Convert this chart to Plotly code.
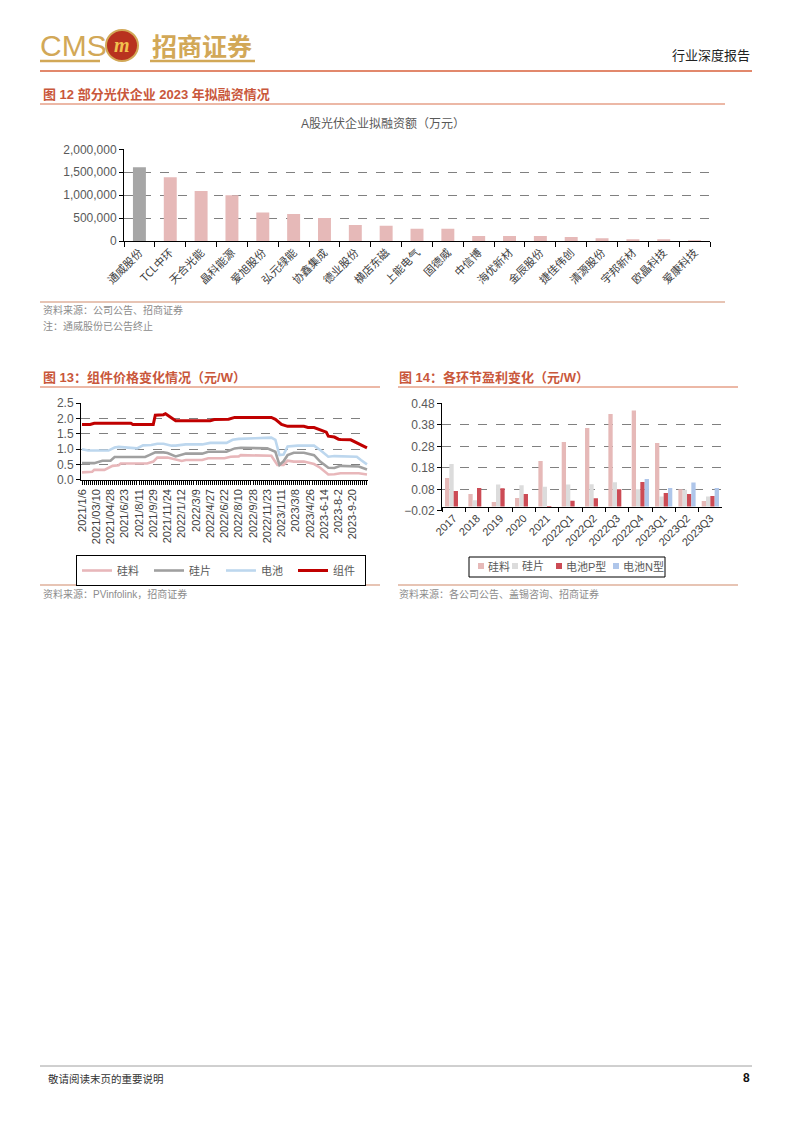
import plotly.graph_objects as go

W, H = 794, 1123
OFF = 8  # page body margin of the html page
def px(x):
    return (x - OFF) / W
def py(y):
    return 1 - (y - OFF) / H

CJK = "Noto Sans CJK SC"
MIX = "Liberation Sans, Noto Sans CJK SC"
ORANGE = "#C9573B"
GOLD = "#D2A857"

# ---------------- Figure 12 data ----------------
companies = ["通威股份", "TCL中环", "天合光能", "晶科能源", "爱旭股份", "弘元绿能", "协鑫集成",
             "德业股份", "横店东磁", "上能电气", "固德威", "中信博", "海优新材", "金辰股份",
             "捷佳伟创", "清源股份", "宇邦新材", "欧晶科技", "爱康科技"]
financing = [1610000, 1390000, 1090000, 1000000, 620000, 590000, 500000, 350000, 330000,
             265000, 265000, 110000, 110000, 110000, 85000, 60000, 40000, 38000, 15000]
fin_ticks = [0, 500000, 1000000, 1500000, 2000000]

# ---------------- Figure 13 data (weekly observation index, price 元/W) ----------------
date_labels = ["2021/1/6", "2021/03/10", "2021/04/28", "2021/6/23", "2021/8/11", "2021/9/29",
               "2021/11/24", "2022/1/12", "2022/3/9", "2022/4/27", "2022/6/22", "2022/8/10",
               "2022/9/28", "2022/11/23", "2023/1/11", "2023/3/8", "2023/4/26", "2023-6-14",
               "2023-8-2", "2023-9-20"]
label_idx = [0, 7, 14, 21, 28, 35, 42, 49, 56, 63, 70, 77, 84, 91, 98, 105, 112, 119, 126, 133]

poly_idx = [0, 5, 6, 11, 15, 18, 19, 32, 35, 37, 42, 46, 49, 51, 59, 62, 70, 73, 77, 78, 91, 93,
            96, 99, 101, 104, 109, 114, 117, 121, 124, 127, 136, 140]
poly_val = [0.24, 0.26, 0.32, 0.32, 0.45, 0.47, 0.53, 0.53, 0.59, 0.72, 0.72, 0.66, 0.61, 0.64,
            0.64, 0.70, 0.70, 0.75, 0.76, 0.80, 0.80, 0.78, 0.48, 0.48, 0.62, 0.59, 0.59, 0.51,
            0.39, 0.17, 0.18, 0.21, 0.21, 0.17]

wafer_idx = [0, 6, 10, 14, 16, 31, 33, 36, 40, 42, 46, 49, 51, 59, 62, 71, 75, 78, 88, 91, 95,
             97, 99, 101, 104, 109, 114, 117, 121, 124, 127, 132, 136, 140]
wafer_val = [0.54, 0.54, 0.62, 0.62, 0.74, 0.74, 0.80, 0.89, 0.89, 0.87, 0.76, 0.80, 0.85, 0.85,
             0.91, 0.91, 1.02, 1.04, 1.04, 1.02, 0.91, 0.48, 0.60, 0.80, 0.88, 0.88, 0.80, 0.59,
             0.39, 0.38, 0.45, 0.45, 0.43, 0.33]

cell_idx = [0, 3, 13, 16, 18, 24, 27, 30, 34, 37, 40, 44, 46, 51, 59, 63, 71, 74, 77, 85, 89, 93,
            95, 97, 99, 101, 106, 114, 117, 121, 124, 133, 135, 137, 140]
cell_val = [0.99, 0.95, 0.95, 1.05, 1.07, 1.05, 1.02, 1.12, 1.13, 1.17, 1.17, 1.11, 1.11, 1.15,
            1.15, 1.20, 1.20, 1.30, 1.33, 1.35, 1.35, 1.37, 1.30, 0.80, 0.82, 1.08, 1.11, 1.11,
            0.97, 0.75, 0.77, 0.77, 0.75, 0.64, 0.50]

module_idx = [0, 4, 6, 24, 25, 35, 36, 40, 41, 43, 46, 63, 65, 72, 75, 93, 95, 98, 101, 109, 111,
              114, 117, 120, 121, 124, 126, 127, 132, 134, 140]
module_val = [1.80, 1.80, 1.84, 1.84, 1.80, 1.80, 2.10, 2.12, 2.15, 2.05, 1.92, 1.92, 1.96, 1.97,
              2.03, 2.03, 1.97, 1.80, 1.74, 1.74, 1.70, 1.70, 1.63, 1.55, 1.42, 1.39, 1.32, 1.31,
              1.30, 1.24, 1.04]

# ---------------- Figure 14 data (元/W) ----------------
periods = ["2017", "2018", "2019", "2020", "2021", "2022Q1", "2022Q2", "2022Q3", "2022Q4",
           "2023Q1", "2023Q2", "2023Q3"]
profit_poly = [0.133, 0.058, 0.021, 0.040, 0.212, 0.300, 0.365, 0.430, 0.446, 0.295, 0.080, 0.026]
profit_wafer = [0.198, 0.029, 0.102, 0.099, 0.092, 0.102, 0.103, 0.113, 0.080, 0.047, 0.078, 0.046]
profit_cell_p = [0.072, 0.086, 0.085, 0.058, -0.003, 0.027, 0.038, 0.080, 0.114, 0.063, 0.058, 0.049]
profit_cell_n = [None, None, None, None, None, None, None, None, 0.128, 0.086, 0.112, 0.086]
profit_ticks = [-0.02, 0.08, 0.18, 0.28, 0.38, 0.48]

fig = go.Figure()

# Figure 12 bars
fig.add_trace(go.Bar(
    x=companies, y=financing, xaxis="x", yaxis="y", width=0.42,
    marker=dict(color=["#A6A6A6"] + ["#E6B9B8"] * (len(companies) - 1), line=dict(width=0)),
    showlegend=False, hoverinfo="x+y"))

# Figure 13 lines
for name, xs, ys, col, w in [("硅料", poly_idx, poly_val, "#E8B7BA", 2.6),
                             ("硅片", wafer_idx, wafer_val, "#A0A0A0", 2.6),
                             ("电池", cell_idx, cell_val, "#BDD7EE", 2.6),
                             ("组件", module_idx, module_val, "#C00000", 3.0)]:
    fig.add_trace(go.Scatter(x=xs, y=ys, mode="lines", name=name, xaxis="x2", yaxis="y2",
                             line=dict(color=col, width=w), legend="legend"))

# Figure 14 bars
bar14 = [("硅料", profit_poly, "#E6B9B8"),
         ("硅片", profit_wafer, "#DCDCDC"),
         ("电池P型", profit_cell_p, "#CC4B55"),
         ("电池N型", profit_cell_n, "#AFC6EA")]
for name, ys, col in bar14:
    fig.add_trace(go.Bar(x=periods, y=ys, name=name, xaxis="x3", yaxis="y3",
                         marker=dict(color=col, line=dict(width=0)), showlegend=False))

axis_font = dict(family="Liberation Sans", size=12, color="#595959")
grid = dict(showgrid=True, gridcolor="#808080", gridwidth=1, griddash="dash")

fig.update_layout(
    width=W, height=H, margin=dict(l=0, r=0, t=0, b=0, autoexpand=False),
    paper_bgcolor="white", plot_bgcolor="white",
    barmode="group", bargap=0.26, bargroupgap=0,
    showlegend=True,
    xaxis=dict(domain=[px(124), px(710)], anchor="y", type="category", automargin=False,
               showline=True, linecolor="black", linewidth=1,
               ticks="outside", tickson="boundaries", ticklen=5, tickcolor="black",
               tickangle=-45, tickfont=dict(family=CJK, size=11, color="#404040"),
               showgrid=False, zeroline=False),
    yaxis=dict(domain=[py(241), py(149.3)], anchor="x", range=[0, 2000000], automargin=False,
               tickvals=fin_ticks, tickformat=",", tickfont=axis_font,
               showline=True, linecolor="black", linewidth=1,
               ticks="outside", ticklen=4, tickcolor="black", zeroline=False, **grid),
    xaxis2=dict(domain=[px(81), px(368)], anchor="y2", range=[-0.5, 140.5], automargin=False,
                tickmode="array", tickvals=label_idx, ticktext=date_labels,
                tickangle=-90, tickfont=dict(family="Liberation Sans", size=11, color="#404040"),
                showline=True, linecolor="black", linewidth=1,
                ticks="outside", ticklen=4, tickcolor="black",
                minor=dict(tickmode="linear", tick0=0, dtick=1, ticks="outside", ticklen=4,
                           tickcolor="black", showgrid=False),
                showgrid=False, zeroline=False),
    yaxis2=dict(domain=[py(479.7), py(403)], anchor="x2", range=[0, 2.5], dtick=0.5,
                automargin=False, tickformat=".1f", tickfont=axis_font,
                showline=True, linecolor="black", linewidth=1,
                ticks="outside", ticklen=4, tickcolor="black", zeroline=False, **grid),
    xaxis3=dict(domain=[px(442), px(722)], anchor="free", position=py(506.5), type="category",
                automargin=False,
                showline=True, linecolor="black", linewidth=1,
                ticks="outside", tickson="boundaries", ticklen=4, tickcolor="black",
                tickangle=-45, tickfont=dict(family="Liberation Sans", size=11, color="#404040"),
                showgrid=False, zeroline=False),
    yaxis3=dict(domain=[py(510.8), py(403.3)], anchor="x3", range=[-0.02, 0.48],
                automargin=False, tickvals=profit_ticks, tickformat=".2f", tickfont=axis_font,
                showline=True, linecolor="black", linewidth=1,
                ticks="outside", ticklen=4, tickcolor="black", zeroline=False, **grid),
    legend=dict(x=px(221), xanchor="center", y=py(555), yanchor="top", orientation="h",
                bordercolor="black", borderwidth=1, bgcolor="white",
                font=dict(family=CJK, size=11, color="#595959"),
                itemwidth=30, entrywidth=27, tracegroupgap=0),
)

shapes = []
def hline(x0, x1, y, color, width=1):
    shapes.append(dict(type="line", xref="paper", yref="paper", x0=px(x0), x1=px(x1),
                       y0=py(y), y1=py(y), line=dict(color=color, width=width)))
def rect(x0, x1, y0, y1, fill, line_color=None, lw=0):
    shapes.append(dict(type="rect", xref="paper", yref="paper", x0=px(x0), x1=px(x1),
                       y0=py(y1), y1=py(y0), fillcolor=fill,
                       line=dict(color=line_color or fill, width=lw)))

hline(40, 752, 71, "#D9603B", 1.5)
hline(40, 100, 61, GOLD, 2.5)
hline(150, 255, 61, GOLD, 2.5)
hline(40, 725, 104, "#D9734E", 1.2)
hline(40, 725, 302, "#D08A6A", 1.2)
hline(40, 380, 387, "#D9734E", 1.2)
hline(398, 738, 387, "#D9734E", 1.2)
hline(40, 380, 585, "#D08A6A", 1.2)
hline(398, 738, 585, "#D08A6A", 1.2)
hline(40, 752, 1066, "#A0A0A0", 1)
shapes.append(dict(type="circle", xref="paper", yref="paper", x0=px(106), x1=px(138),
                   y0=py(61), y1=py(30), fillcolor="#B8321F", line=dict(color=GOLD, width=2)))

# Figure 14 legend box
rect(469, 665, 557, 577, "rgba(0,0,0,0)", "black", 1)
legend14_x = [478, 512, 556, 613]
for (name, ys, col), lx in zip(bar14, legend14_x):
    rect(lx, lx + 6, 563, 569, col)
fig.update_layout(shapes=shapes)

def note(text, x, y, size, color, family=MIX, xanchor="left", bold=False):
    if bold:
        text = "<b>" + text + "</b>"
    fig.add_annotation(text=text, x=px(x), y=py(y), xref="paper", yref="paper",
                       xanchor=xanchor, yanchor="middle", showarrow=False,
                       font=dict(family=family, size=size, color=color))

for (name, ys, col), lx in zip(bar14, legend14_x):
    note(name, lx + 8, 566, 11, "#595959", family=MIX)

note("CMS", 38, 45, 30, GOLD, family="Liberation Sans Narrow, Liberation Sans")
note("<i>m</i>", 122, 45, 20, "#F2C14E", family="Liberation Serif", xanchor="center", bold=True)
note("招商证券", 150, 45, 25, GOLD, family=CJK, bold=True)
note("行业深度报告", 752, 55, 13, "#222222", family=CJK, xanchor="right")

note("图 12 部分光伏企业 2023 年拟融资情况", 41, 95, 13, ORANGE, bold=True)
note("A股光伏企业拟融资额（万元）", 383, 124, 12, "#595959", xanchor="center")
note("资料来源：公司公告、招商证券", 41, 310, 10, "#8C8C8C")
note("注：通威股份已公告终止", 41, 326, 10, "#8C8C8C")

note("图 13：组件价格变化情况（元/W）", 41, 377, 13, ORANGE, bold=True)
note("图 14：各环节盈利变化（元/W）", 397, 377, 13, ORANGE, bold=True)
note("资料来源：PVinfolink，招商证券", 41, 594, 10, "#8C8C8C")
note("资料来源：各公司公告、盖锡咨询、招商证券", 397, 594, 10, "#8C8C8C")

note("敬请阅读末页的重要说明", 46, 1078, 10.5, "#333333", family=CJK)
note("8", 752, 1078, 12, "#111111", xanchor="right", bold=True)

fig.write_html("out.html")
